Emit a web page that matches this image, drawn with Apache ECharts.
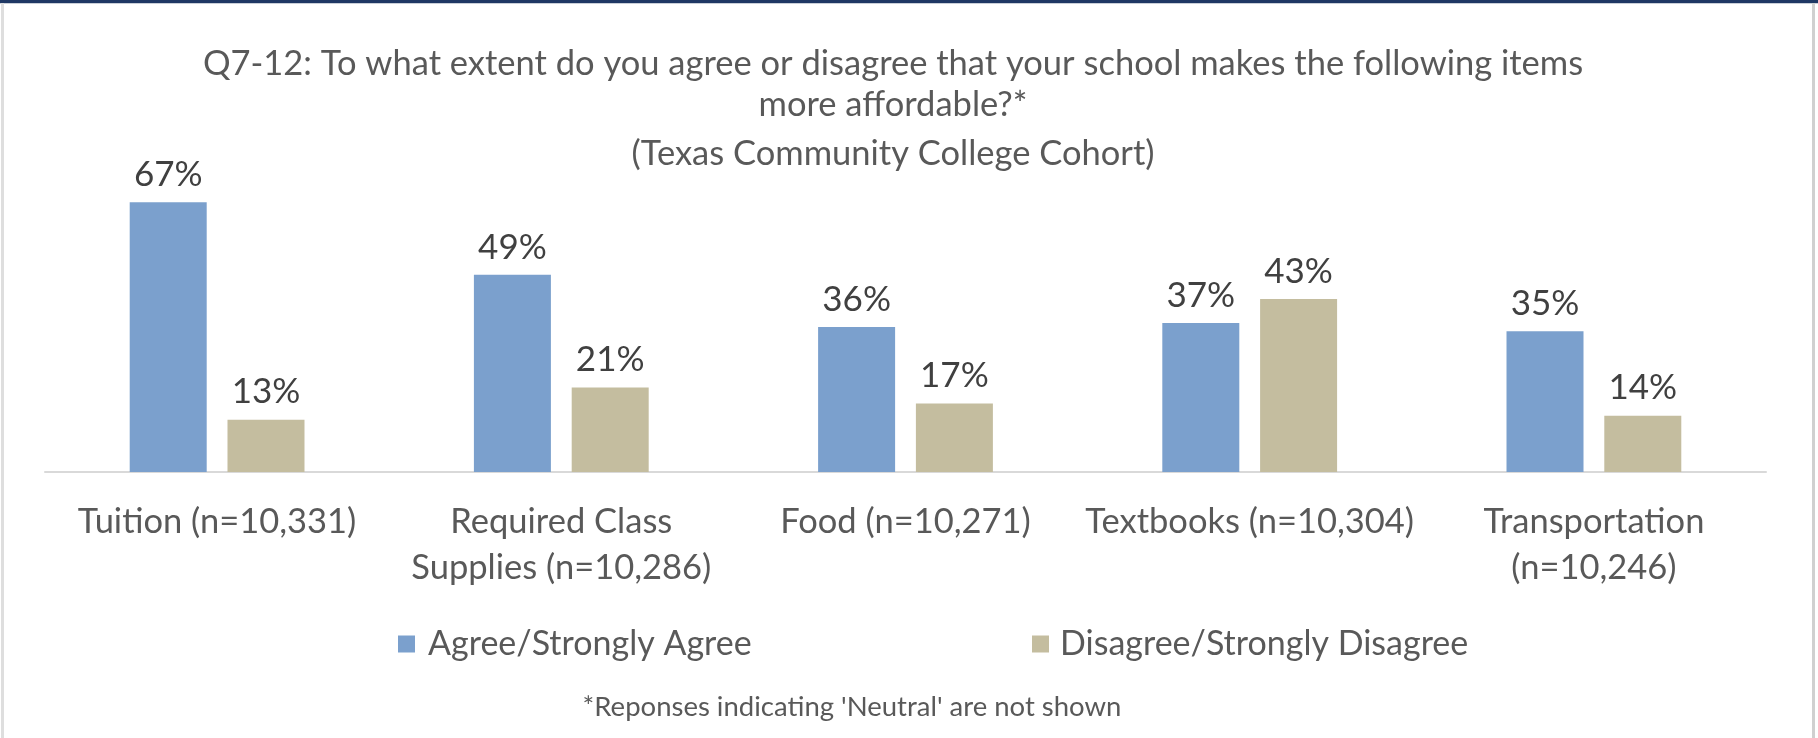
<!DOCTYPE html>
<html>
<head>
<meta charset="utf-8">
<script src="https://cdn.jsdelivr.net/npm/echarts@6/dist/echarts.min.js"></script>
<style>
  html, body { margin: 0; padding: 0; background: #ffffff; }
  #chart { width: 1818px; height: 738px; }
</style>
</head>
<body>
<div id="chart"></div>
<script>
// Survey items (x-axis categories)
const categories = [
  'Tuition (n=10,331)',
  'Required Class\nSupplies (n=10,286)',
  'Food (n=10,271)',
  'Textbooks (n=10,304)',
  'Transportation\n(n=10,246)'
];

// Series names and percentages
const seriesNames = ['Agree/Strongly Agree', 'Disagree/Strongly Disagree'];
const agreeValues = [67, 49, 36, 37, 35];
const disagreeValues = [13, 21, 17, 43, 14];

// Title lines and footnote
const titleLines = [
  'Q7-12: To what extent do you agree or disagree that your school makes the following items',
  'more affordable?*',
  '(Texas Community College Cohort)'
];
const footnote = "*Reponses indicating 'Neutral' are not shown";

const FONT = 'Lato, "Noto Sans", sans-serif';
const GREY = '#595959';
const COLORS = ['#7BA0CD', '#C4BD9F'];

const chart = echarts.init(document.getElementById('chart'), null, { renderer: 'canvas' });

const labelStyle = {
  show: true,
  position: 'top',
  distance: 10,
  formatter: '{c}%',
  color: '#404040',
  fontFamily: FONT,
  fontSize: 35,
  lineHeight: 35
};

const titleText = { color: GREY, fontFamily: FONT, fontWeight: 'normal', fontSize: 34.5, lineHeight: 42 };

chart.setOption({
  backgroundColor: '#ffffff',
  animation: false,
  title: [
    { text: titleLines[0], left: 888, top: 38, textAlign: 'center', textStyle: titleText },
    { text: titleLines[1], left: 888, top: 79, textAlign: 'center', textStyle: titleText },
    { text: titleLines[2], left: 888, top: 128, textAlign: 'center', textStyle: titleText },
    { text: footnote, left: 847, top: 688, textAlign: 'center',
      textStyle: { color: GREY, fontFamily: FONT, fontWeight: 'normal', fontSize: 27.5, lineHeight: 28 } }
  ],
  legend: [
    { data: [seriesNames[0]], left: 398, top: 627, padding: 0, icon: 'rect', itemWidth: 17, itemHeight: 17,
      itemGap: 0, selectedMode: false,
      textStyle: { color: GREY, fontFamily: FONT, fontSize: 34, padding: [0, 0, 0, 8] } },
    { data: [seriesNames[1]], left: 1032, top: 627, padding: 0, icon: 'rect', itemWidth: 17, itemHeight: 17,
      itemGap: 0, selectedMode: false,
      textStyle: { color: GREY, fontFamily: FONT, fontSize: 34, padding: [0, 0, 0, 6] } }
  ],
  grid: { left: 45, right: 52, top: 150, bottom: 266, containLabel: false },
  xAxis: {
    type: 'category',
    data: categories,
    axisTick: { show: false },
    axisLine: { show: true, lineStyle: { color: '#d9d9d9', width: 2 } },
    axisLabel: {
      interval: 0,
      margin: 27,
      color: GREY,
      fontFamily: FONT,
      fontSize: 34.5,
      lineHeight: 46
    }
  },
  yAxis: {
    type: 'value',
    min: 0,
    max: 80,
    show: false,
    splitLine: { show: false }
  },
  series: [
    { name: seriesNames[0], type: 'bar', data: agreeValues, barWidth: 77, barGap: '27%',
      itemStyle: { color: COLORS[0] }, label: labelStyle },
    { name: seriesNames[1], type: 'bar', data: disagreeValues, barWidth: 77,
      itemStyle: { color: COLORS[1] }, label: labelStyle }
  ],
  graphic: [
    // frame: dark top band, thin grey edges
    { type: 'rect', shape: { x: 0, y: 0, width: 1818, height: 3 }, style: { fill: '#1F3864' }, silent: true },
    { type: 'rect', shape: { x: 0, y: 3, width: 1818, height: 1 }, style: { fill: '#c9cfd8' }, silent: true },
    { type: 'rect', shape: { x: 1, y: 3, width: 3, height: 735 }, style: { fill: '#dedede' }, silent: true },
    { type: 'rect', shape: { x: 1812, y: 3, width: 3, height: 735 }, style: { fill: '#d0d0d0' }, silent: true }
  ]
});
</script>
</body>
</html>
